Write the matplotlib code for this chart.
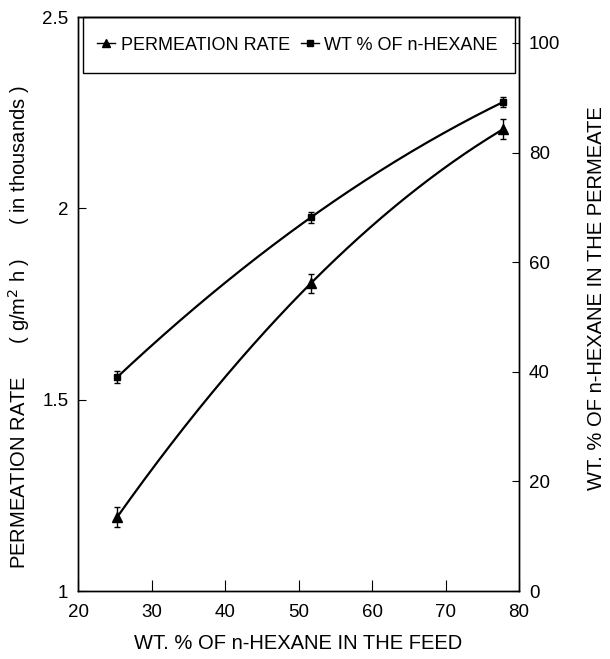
import numpy as np
import matplotlib
matplotlib.use("Agg")
import matplotlib.pyplot as plt
from matplotlib.patches import Rectangle

plt.rcParams['font.family'] = ['Liberation Sans', 'DejaVu Sans']

# Data
feed_wt = [25.3, 51.7, 77.8]
perm_rate = [1.193, 1.805, 2.207]
perm_err = [0.026, 0.025, 0.026]
hexane_wt = [39.0, 68.2, 89.2]
hexane_err = [1.1, 1.0, 0.85]

left_ticks = [1, 1.5, 2, 2.5]
left_ticklabels = ['1', '1.5', '2', '2.5']
right_ticks = [0, 20, 40, 60, 80, 100]
x_ticks = [20, 30, 40, 50, 60, 70, 80]

fig = plt.figure(figsize=(6.10, 6.59), dpi=100)
ax = fig.add_axes([0.128, 0.103, 0.723, 0.871])
ax2 = ax.twinx()

# smooth curves (quadratic through the three points)
xs = np.linspace(feed_wt[0], feed_wt[-1], 200)
c1 = np.polyfit(feed_wt, perm_rate, 2)
c2 = np.polyfit(feed_wt, hexane_wt, 2)
ax.plot(xs, np.polyval(c1, xs), color='black', lw=1.6)
ax2.plot(xs, np.polyval(c2, xs), color='black', lw=1.6)

ax.errorbar(feed_wt, perm_rate, yerr=perm_err, fmt='^', color='black',
            ms=7, capsize=2.5, elinewidth=1, capthick=1)
ax2.errorbar(feed_wt, hexane_wt, yerr=hexane_err, fmt='s', color='black',
             ms=5, capsize=2.5, elinewidth=1, capthick=1)

ax.set_xlim(20, 80)
ax.set_ylim(1, 2.5)
ax2.set_ylim(0, 104.7)

ax.set_xticks(x_ticks)
ax.set_yticks(left_ticks)
ax.set_yticklabels(left_ticklabels)
ax2.set_yticks(right_ticks)

ax.tick_params(axis='x', direction='in', length=8, width=0.8, labelsize=13.5, pad=9)
ax.tick_params(axis='y', direction='in', length=6, width=0.8, labelsize=13.5, pad=7)
ax2.tick_params(axis='y', direction='in', length=5, width=0.8, labelsize=13.5, pad=7)

for a in (ax, ax2):
    for s in a.spines.values():
        s.set_linewidth(1.0)

ax.set_xlabel('WT. % OF n-HEXANE IN THE FEED', fontsize=14.5)
ax.xaxis.set_label_coords(0.5, -0.075)
ax.set_ylabel('PERMEATION RATE      ( g/m$^2$ h )      ( in thousands )', fontsize=14.5)
ax.yaxis.set_label_coords(-0.105, 0.46)
ax2.set_ylabel('WT. % OF n-HEXANE IN THE PERMEATE', fontsize=14.5, rotation=90)
ax2.yaxis.set_label_coords(1.155, 0.51)

# legend frame box
ax2.add_patch(Rectangle((0.011, 0.902), 0.98, 0.098, transform=ax2.transAxes,
                        fill=False, edgecolor='black', lw=1.0, zorder=5,
                        clip_on=False))

h1 = plt.Line2D([], [], color='black', marker='^', ms=6, lw=1)
h2 = plt.Line2D([], [], color='black', marker='s', ms=4.5, lw=1)
leg = ax2.legend([h1, h2], ['PERMEATION RATE', 'WT % OF n-HEXANE'],
                 loc='center', bbox_to_anchor=(0.497, 0.951), ncol=2,
                 fontsize=13, frameon=False,
                 handlelength=1.0, handletextpad=0.3, columnspacing=0.6,
                 borderpad=0.2, borderaxespad=0.0)

fig.savefig('out.png', dpi=100)
